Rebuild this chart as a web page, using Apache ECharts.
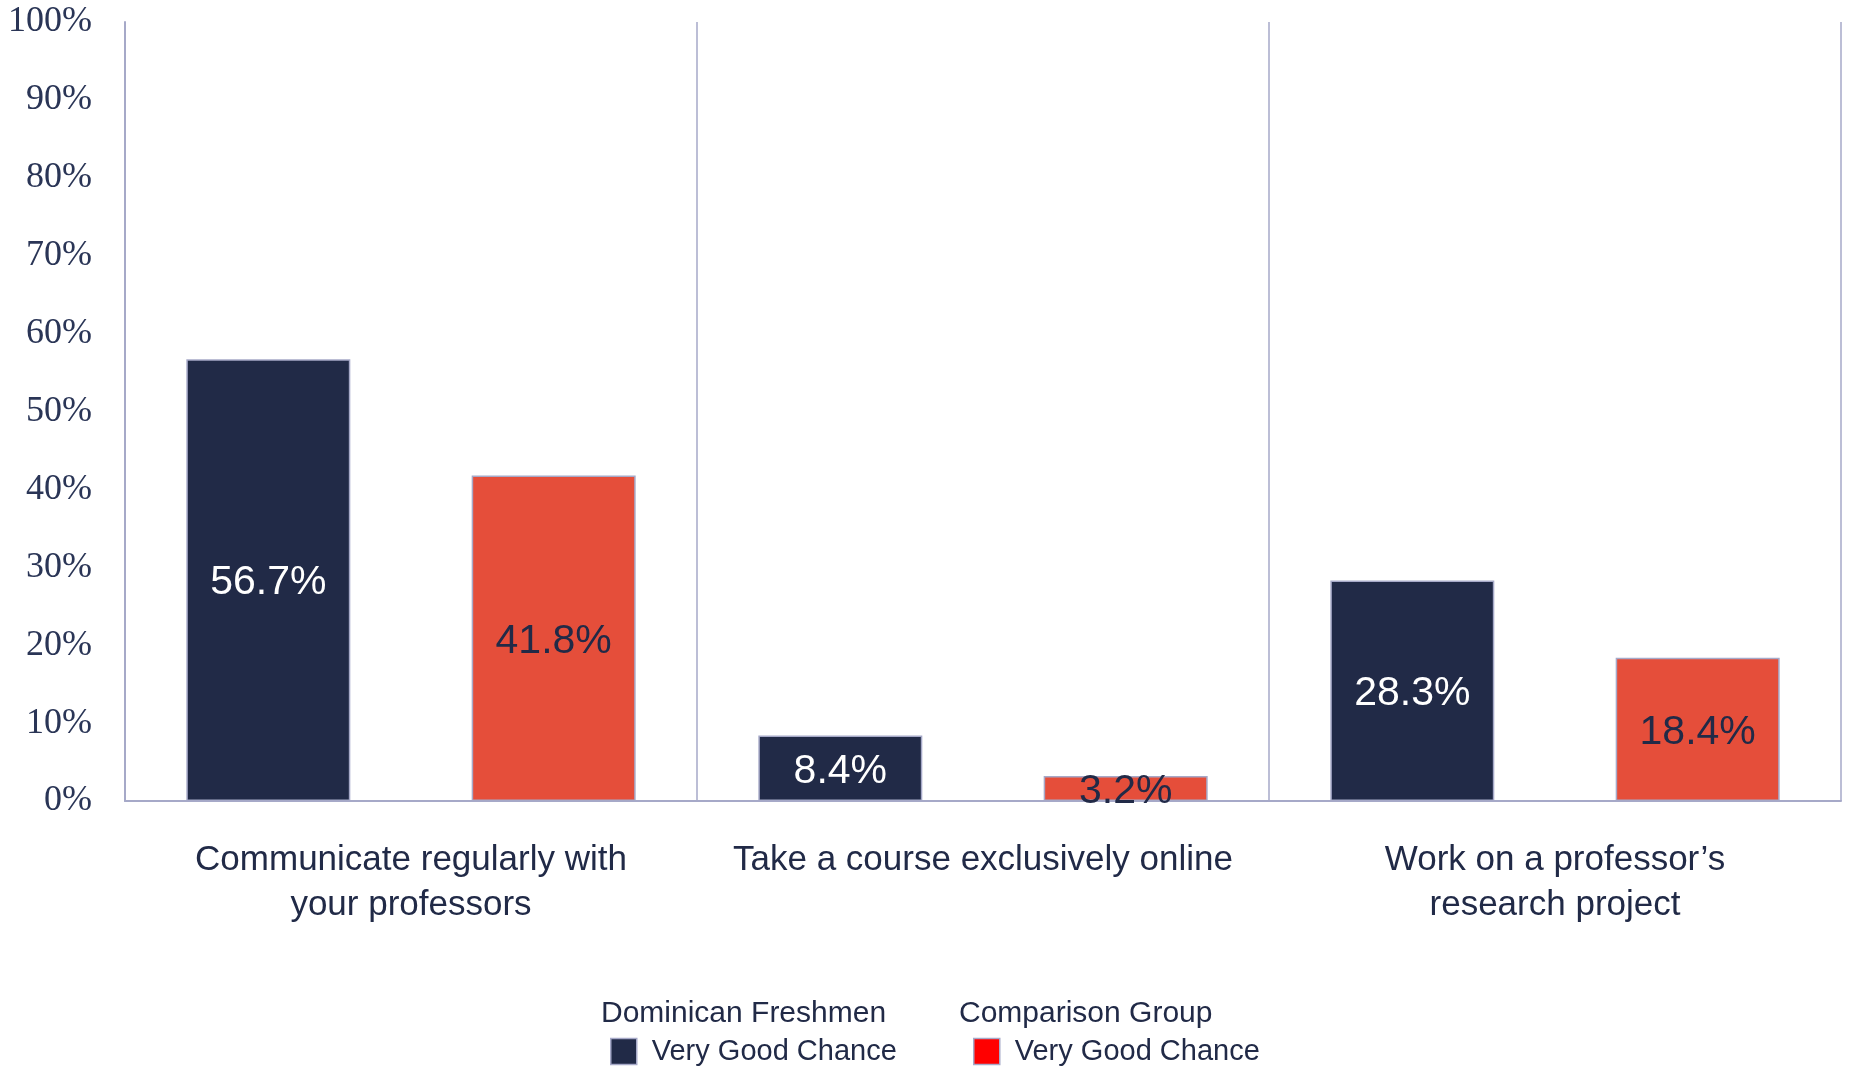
<!DOCTYPE html>
<html>
<head>
<meta charset="utf-8">
<script src="https://cdn.jsdelivr.net/npm/echarts@6/dist/echarts.min.js"></script>
<style>
  html, body { margin: 0; padding: 0; background: #fff; }
  #chart { width: 1852px; height: 1066px; }
</style>
</head>
<body>
<div id="chart"></div>
<script>
const categories = [
    'Communicate regularly with\nyour professors',
    'Take a course exclusively online',
    'Work on a professor\u2019s\nresearch project'
];
const dominicanValues = [56.7, 8.4, 28.3];
const comparisonValues = [41.8, 3.2, 18.4];
const seriesNames = ['Dominican Freshmen', 'Comparison Group'];
const legendLabel = 'Very Good Chance';

const navy = '#212a47';
const red = '#e54e3a';
const lavender = '#a6a9c8';
const sansFont = '"Liberation Sans", Arial, sans-serif';
const serifFont = '"Liberation Serif", "DejaVu Serif", serif';

const barOptions = {
    type: 'bar',
    barWidth: 164,
    barGap: '74%',
    itemStyle: {
        borderColor: lavender,
        borderWidth: 1.5
    }
};

function makeLabel(color) {
    return {
        show: true,
        position: 'inside',
        offset: [0, 3],
        color: color,
        fontFamily: sansFont,
        fontSize: 41,
        formatter: p => p.value.toFixed(1) + '%'
    };
}

function makeLegend(name, iconColor, left) {
    return {
        data: [{ name: name, itemStyle: { color: iconColor, borderColor: lavender, borderWidth: 1.5 } }],
        left: left,
        top: 1037,
        padding: 0,
        icon: 'rect',
        itemWidth: 26,
        itemHeight: 26,
        formatter: () => legendLabel,
        textStyle: { fontFamily: sansFont, fontSize: 29, color: navy, padding: [0, 0, 0, 10] }
    };
}

let chartDom = document.getElementById('chart');
let myChart = echarts.init(chartDom);

let option = {
    animation: false,
    title: [
        {
            text: seriesNames[0],
            left: 601,
            top: 999,
            padding: 0,
            textStyle: { fontFamily: sansFont, fontSize: 30, fontWeight: 'normal', color: navy }
        },
        {
            text: seriesNames[1],
            left: 959,
            top: 999,
            padding: 0,
            textStyle: { fontFamily: sansFont, fontSize: 30, fontWeight: 'normal', color: navy }
        }
    ],
    legend: [
        makeLegend(seriesNames[0], navy, 610),
        makeLegend(seriesNames[1], '#ff0000', 973)
    ],
    grid: {
        left: 125,
        right: 11,
        top: 22,
        bottom: 265
    },
    xAxis: {
        type: 'category',
        data: categories,
        axisLine: { show: true, lineStyle: { color: lavender, width: 2 } },
        axisTick: { show: false },
        splitLine: { show: true, interval: 0, lineStyle: { color: lavender, width: 1.5 } },
        axisLabel: {
            interval: 0,
            margin: 37,
            fontFamily: sansFont,
            fontSize: 35,
            lineHeight: 45,
            color: navy
        }
    },
    yAxis: {
        type: 'value',
        min: 0,
        max: 100,
        interval: 10,
        axisLine: { show: true, lineStyle: { color: lavender, width: 2 } },
        axisTick: { show: false },
        splitLine: { show: false },
        axisLabel: {
            margin: 33,
            formatter: '{value}%',
            fontFamily: serifFont,
            fontSize: 36,
            color: '#2a3556'
        }
    },
    series: [
        {
            name: seriesNames[0],
            data: dominicanValues,
            ...barOptions,
            itemStyle: { ...barOptions.itemStyle, color: navy },
            label: makeLabel('#ffffff')
        },
        {
            name: seriesNames[1],
            data: comparisonValues,
            ...barOptions,
            itemStyle: { ...barOptions.itemStyle, color: red },
            label: makeLabel(navy)
        }
    ]
};

option && myChart.setOption(option);
</script>
</body>
</html>
